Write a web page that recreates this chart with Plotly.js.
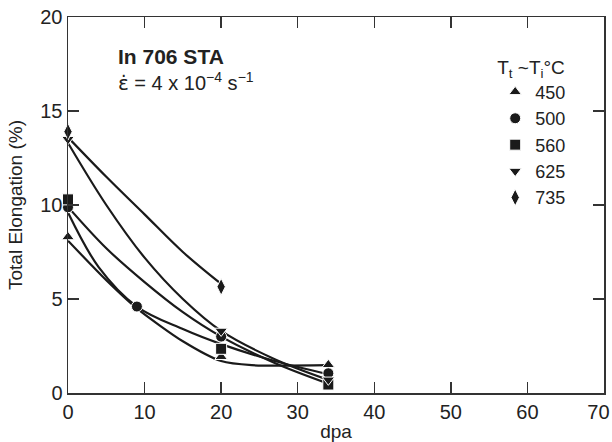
<!DOCTYPE html>
<html>
<head>
<meta charset="utf-8">
<script src="https://cdn.plot.ly/plotly-3.0.1.min.js"></script>
<style>html,body{margin:0;padding:0;background:#fff;}#chart{width:612px;height:442px;}</style>
</head>
<body>
<div id="chart"></div>
<script>
// Measured points (dpa, total elongation %)
const seriesNames = ["450", "500", "560", "625", "735"];
const symbols = ["triangle-up", "circle", "square", "triangle-down", "diamond-tall"];

const dpa450 = [0, 20, 34];      const te450 = [8.3, 1.93, 1.5];
const dpa500 = [0, 9, 20, 34];   const te500 = [9.88, 4.6, 3.0, 1.05];
const dpa560 = [0, 20, 34];      const te560 = [10.3, 2.35, 0.45];
const dpa625 = [0, 20, 34];      const te625 = [13.5, 3.3, 0.7];
const dpa735 = [0, 20];          const te735 = [13.9, 5.65];

// Fitted trend curves
const fitX450 = [0, 5, 9, 15, 20, 24, 34];      const fitY450 = [8.1, 6.0, 4.5, 2.75, 1.7, 1.48, 1.48];
const fitX500 = [0, 4, 9, 15, 20, 27, 34];      const fitY500 = [9.6, 6.7, 4.6, 3.4, 2.6, 1.7, 1.0];
const fitX560 = [0, 5, 10, 15, 20, 27, 34];     const fitY560 = [9.9, 7.7, 5.9, 4.3, 3.0, 1.6, 0.5];
const fitX625 = [0, 5, 10, 15, 20, 27, 34];     const fitY625 = [13.3, 10.0, 7.2, 5.0, 3.3, 1.8, 0.7];
const fitX735 = [0, 5, 10, 15, 20];             const fitY735 = [13.6, 11.5, 9.5, 7.5, 5.8];

const xTicks = [0, 10, 20, 30, 40, 50, 60, 70];
const yTicks = [0, 5, 10, 15, 20];

const ptsX = [dpa450, dpa500, dpa560, dpa625, dpa735];
const ptsY = [te450, te500, te560, te625, te735];
const fitsX = [fitX450, fitX500, fitX560, fitX625, fitX735];
const fitsY = [fitY450, fitY500, fitY560, fitY625, fitY735];

const ink = "#1a1a1a";
const traces = [];
for (let i = 0; i < seriesNames.length; i++) {
  traces.push({
    x: fitsX[i], y: fitsY[i], mode: "lines", type: "scatter",
    line: {color: ink, width: 2.2, shape: "spline", smoothing: i === 0 ? 0.7 : 1.0},
    showlegend: false, hoverinfo: "skip", cliponaxis: false
  });
}
for (let i = 0; i < seriesNames.length; i++) {
  traces.push({
    x: ptsX[i], y: ptsY[i], mode: "markers", type: "scatter", name: seriesNames[i],
    cliponaxis: false,
    marker: {symbol: symbols[i], color: ink, size: i === 4 ? 12 : 11,
             line: {color: "#ffffff", width: 1}}
  });
}

// last x tick label sits just inside the page edge, as in the original
const xTickText = xTicks.map((v, i) => i === xTicks.length - 1 ? String(v) + "\u00A0\u00A0" : String(v));

const fontFam = "Liberation Sans, Arial, sans-serif";
const txt = "#222";
const layout = {
  width: 612, height: 442,
  margin: {l: 68, r: 8, t: 17, b: 49},
  paper_bgcolor: "#fff", plot_bgcolor: "#fff",
  font: {family: fontFam, color: txt, size: 20},
  xaxis: {
    range: [0, 70], tickmode: "array", tickvals: xTicks, ticktext: xTickText,
    ticks: "inside", ticklen: 11, tickwidth: 1.3, tickcolor: "#333",
    showline: true, linecolor: "#333", linewidth: 1.5, mirror: "ticks",
    showgrid: false, zeroline: false, ticklabeloverflow: "allow",
    tickfont: {size: 20, family: fontFam, color: txt},
    title: {text: "dpa", font: {size: 19, family: fontFam, color: txt}, standoff: 3}
  },
  yaxis: {
    range: [0, 20], tickmode: "array", tickvals: yTicks, ticktext: yTicks.map(String),
    ticks: "inside", ticklen: 11, tickwidth: 1.3, tickcolor: "#333",
    showline: true, linecolor: "#333", linewidth: 1.5, mirror: "ticks",
    showgrid: false, zeroline: false,
    tickfont: {size: 20, family: fontFam, color: txt},
    title: {text: "Total Elongation (%)", font: {size: 19, family: fontFam, color: txt}, standoff: 12}
  },
  showlegend: true,
  legend: {
    x: 0.797, y: 0.915, xanchor: "left", yanchor: "top",
    bgcolor: "rgba(0,0,0,0)", borderwidth: 0,
    font: {size: 18, family: fontFam, color: txt},
    itemwidth: 30, tracegroupgap: 0,
    title: {text: "T<sub>t</sub> ~T<sub>i</sub>°C", font: {size: 19, family: fontFam, color: txt}}
  },
  annotations: [
    {xref: "paper", yref: "paper", x: 0.09, y: 0.894, xanchor: "left", yanchor: "middle",
     text: "<b>In 706 STA</b>", showarrow: false, font: {size: 21, family: fontFam, color: txt}},
    {xref: "paper", yref: "paper", x: 0.09, y: 0.826, xanchor: "left", yanchor: "middle",
     text: "<span style=\"font-family:DejaVu Sans\">\u03B5\u0307</span> = 4 x 10<sup>\u22124</sup> s<sup>\u22121</sup>",
     showarrow: false, font: {size: 20, family: fontFam, color: txt}}
  ]
};

Plotly.newPlot("chart", traces, layout, {displayModeBar: false, staticPlot: true});
</script>
</body>
</html>
